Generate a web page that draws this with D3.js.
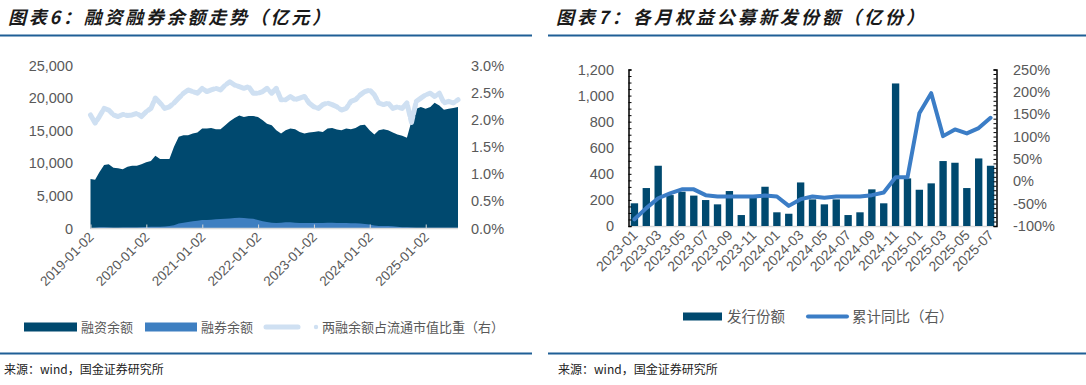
<!DOCTYPE html>
<html>
<head>
<meta charset="utf-8">
<script src="https://cdn.jsdelivr.net/npm/d3@7"></script>
<style>
body { margin: 0; background: #fff; }
text { font-family: "Liberation Sans", Arial, sans-serif; }
.cn { font-family: "Noto Sans CJK SC", sans-serif; }
</style>
</head>
<body>
<svg width="1086" height="385"></svg>
<script>
// ---- left chart data (monthly, 2019-01 .. 2025-08) ----
const leftStart = '2019-01-02';
const financing = [7610, 7460, 8630, 9740, 9840, 9330, 9230, 9080, 9480, 9640, 9640, 9840,
    10150, 10350, 11160, 10650, 10650, 10650, 12530, 14060, 14310, 14310, 14570, 14720,
    15320, 15320, 15420, 15220, 15220, 15830, 16440, 16950, 17350, 17100, 17250, 17250,
    17100, 16590, 16080, 15830, 15070, 14570, 15070, 15320, 15220, 14810, 14570, 14720,
    14810, 14920, 14810, 15320, 15420, 15170, 15070, 15320, 15220, 15420, 15830, 15930,
    15070, 14410, 15070, 15220, 15070, 14720, 14410, 14210, 13900, 16500, 18360, 18620,
    18360, 18620, 19280, 18870, 18210, 18360, 18470, 18620];
const lending = [90, 100, 180, 190, 170, 130, 130, 150, 160, 160, 170, 190,
    220, 260, 250, 280, 300, 400, 500, 750, 900, 1000, 1100, 1200,
    1300, 1300, 1350, 1400, 1450, 1500, 1550, 1600, 1650, 1600, 1550, 1500,
    1300, 1100, 1000, 900, 850, 900, 950, 950, 900, 850, 850, 850,
    850, 850, 850, 900, 900, 850, 850, 850, 800, 800, 750, 700,
    600, 450, 400, 380, 380, 350, 250, 200, 180, 150, 130, 120,
    110, 110, 120, 110, 110, 110, 110, 110];
const ratio = [2.09, 1.94, 2.06, 2.21, 2.18, 2.09, 2.06, 2.10, 2.08, 2.09, 2.12, 2.06,
    2.15, 2.21, 2.40, 2.31, 2.21, 2.24, 2.31, 2.40, 2.49, 2.55, 2.52, 2.49,
    2.58, 2.52, 2.55, 2.58, 2.55, 2.64, 2.70, 2.64, 2.61, 2.58, 2.61, 2.49,
    2.49, 2.52, 2.58, 2.49, 2.58, 2.37, 2.37, 2.43, 2.37, 2.40, 2.43, 2.31,
    2.24, 2.21, 2.28, 2.31, 2.28, 2.24, 2.18, 2.21, 2.34, 2.37, 2.46, 2.52,
    2.55, 2.46, 2.31, 2.28, 2.31, 2.21, 2.24, 2.21, 2.31, 1.95, 2.34, 2.40,
    2.46, 2.49, 2.43, 2.49, 2.31, 2.34, 2.31, 2.37];
const leftTicks = ['2019-01-02', '2020-01-02', '2021-01-02', '2022-01-02', '2023-01-02', '2024-01-02', '2025-01-02'];
const leftYTicks = [0, 5000, 10000, 15000, 20000, 25000];
const leftY2Ticks = [0, 0.5, 1.0, 1.5, 2.0, 2.5, 3.0];

// ---- right chart data ----
const months = ['2023-01', '2023-02', '2023-03', '2023-04', '2023-05', '2023-06', '2023-07', '2023-08',
    '2023-09', '2023-10', '2023-11', '2023-12', '2024-01', '2024-02', '2024-03', '2024-04', '2024-05',
    '2024-06', '2024-07', '2024-08', '2024-09', '2024-10', '2024-11', '2024-12', '2025-01', '2025-02',
    '2025-03', '2025-04', '2025-05', '2025-06', '2025-07'];
const issued = [174, 291, 462, 237, 263, 233, 199, 166, 268, 84, 225, 301, 105, 94, 334, 204, 166,
    204, 84, 105, 281, 174, 1093, 365, 278, 327, 498, 485, 291, 518, 462];
const yoy = [-85, -60, -38, -27, -18, -18, -31, -34, -34, -34, -34, -32, -34, -55, -40, -34, -37,
    -34, -34, -34, -31, -25, 9, 9, 152, 197, 101, 116, 107, 119, 142];
const rightYTicks = [0, 200, 400, 600, 800, 1000, 1200];
const rightY2Ticks = [-100, -50, 0, 50, 100, 150, 200, 250];

const DARK = '#00496f';
const MID = '#3e7fc1';
const LIGHT = '#cfe0f2';
const LINE = '#3b7dc6';
const GREY = '#595959';

const svg = d3.select('svg');
svg.append('rect').attr('width', 1086).attr('height', 385).attr('fill', '#fff');

// titles and rules
const title = (x, txt, len) => svg.append('text')
    .attr('class', 'cn').attr('x', x).attr('y', 24)
    .attr('font-size', 18).attr('font-weight', 'bold').attr('font-style', 'italic')
    .attr('fill', '#1a1a1a').attr('textLength', len).attr('lengthAdjust', 'spacing')
    .text(txt);
title(8, '图表6：融资融券余额走势（亿元）', 322);
title(556, '图表7：各月权益公募新发份额（亿份）', 368);

[[0, 532], [548, 1086]].forEach(([a, b]) => {
    svg.append('line').attr('x1', a).attr('x2', b).attr('y1', 35.5).attr('y2', 35.5)
        .attr('stroke', '#1f5f96').attr('stroke-width', 2);
    svg.append('line').attr('x1', a).attr('x2', b).attr('y1', 353.5).attr('y2', 353.5)
        .attr('stroke', '#1f5f96').attr('stroke-width', 2);
});
svg.append('text').attr('class', 'cn').attr('x', 4).attr('y', 374).attr('font-size', 12).attr('fill', '#222').text('来源：wind，国金证券研究所');
svg.append('text').attr('class', 'cn').attr('x', 558).attr('y', 374).attr('font-size', 12).attr('fill', '#222').text('来源：wind，国金证券研究所');

// ================= left chart =================
const parse = d3.timeParse('%Y-%m-%d');
const firstDate = parse(leftStart);
const dates = [firstDate, ...d3.timeMonth.range(d3.timeMonth.offset(d3.timeMonth.floor(firstDate), 1), d3.timeMonth.offset(d3.timeMonth.floor(firstDate), financing.length))];
const leftData = dates.map((date, i) => ({ date, fin: financing[i], lend: lending[i], ratio: ratio[i] }));

const xL = d3.scaleTime().domain(d3.extent(dates)).range([90.5, 458]);
const yL = d3.scaleLinear().domain([0, 25000]).range([228.5, 65.5]);
const yL2 = d3.scaleLinear().domain([0, 3]).range([228.5, 65.5]);

const gL = svg.append('g');
gL.append('path').datum(leftData)
    .attr('fill', DARK)
    .attr('d', d3.area().x(d => xL(d.date)).y0(yL(0)).y1(d => yL(d.fin)));
gL.append('path').datum(leftData)
    .attr('fill', MID)
    .attr('d', d3.area().x(d => xL(d.date)).y0(yL(0)).y1(d => yL(d.lend)));
gL.append('path').datum(leftData)
    .attr('fill', 'none').attr('stroke', LIGHT).attr('stroke-width', 5)
    .attr('stroke-linecap', 'round').attr('stroke-linejoin', 'round')
    .attr('stroke-dasharray', '10 3')
    .attr('d', d3.line().x(d => xL(d.date)).y(d => yL2(d.ratio)));

// bottom axis
const xAxisL = gL.append('g').attr('transform', `translate(0,${yL(0)})`)
    .call(d3.axisBottom(xL).tickValues(leftTicks.map(parse)).tickSize(-4).tickFormat(''));
xAxisL.select('.domain').attr('stroke', '#d9d9d9').attr('stroke-width', 1.5).attr('d', `M90.5,0H458`);
xAxisL.selectAll('.tick line').attr('stroke', '#d9d9d9');
gL.selectAll('.xlab').data(leftTicks).join('text')
    .attr('class', 'xlab')
    .attr('transform', d => `translate(${xL(parse(d)) + 4},${238}) rotate(-45)`)
    .attr('text-anchor', 'end').attr('font-size', 13.5).attr('fill', GREY)
    .text(d => d);

gL.selectAll('.ylab').data(leftYTicks).join('text')
    .attr('class', 'ylab')
    .attr('x', 73).attr('y', d => yL(d)).attr('dy', '0.35em')
    .attr('text-anchor', 'end').attr('font-size', 14.5).attr('fill', GREY)
    .text(d => d3.format(',')(d));
gL.selectAll('.y2lab').data(leftY2Ticks).join('text')
    .attr('class', 'y2lab')
    .attr('x', 471).attr('y', d => yL2(d)).attr('dy', '0.35em')
    .attr('text-anchor', 'start').attr('font-size', 14.5).attr('fill', GREY)
    .text(d => d3.format('.1f')(d) + '%');

// legend
const legL = svg.append('g').attr('class', 'cn');
legL.append('rect').attr('x', 24).attr('y', 322.5).attr('width', 53).attr('height', 9).attr('fill', DARK);
legL.append('text').attr('x', 81).attr('y', 327).attr('dy', '0.35em').attr('font-size', 13).attr('fill', GREY).attr('class', 'cn').text('融资余额');
legL.append('rect').attr('x', 145).attr('y', 322.5).attr('width', 52).attr('height', 9).attr('fill', MID);
legL.append('text').attr('x', 201).attr('y', 327).attr('dy', '0.35em').attr('font-size', 13).attr('fill', GREY).attr('class', 'cn').text('融券余额');
legL.append('line').attr('x1', 266).attr('x2', 298).attr('y1', 327).attr('y2', 327)
    .attr('stroke', LIGHT).attr('stroke-width', 5).attr('stroke-linecap', 'round');
legL.append('circle').attr('cx', 316).attr('cy', 327).attr('r', 2.2).attr('fill', LIGHT);
legL.append('text').attr('x', 322).attr('y', 327).attr('dy', '0.35em').attr('font-size', 13).attr('fill', GREY).attr('class', 'cn').text('两融余额占流通市值比重（右）');

// ================= right chart =================
const xR = d3.scaleBand().domain(months).range([628.5, 996.5]).paddingInner(0.38).paddingOuter(0.19);
const yR = d3.scaleLinear().domain([0, 1200]).range([226, 69.5]);
const yR2 = d3.scaleLinear().domain([-100, 250]).range([226, 69.5]);

const gR = svg.append('g');
gR.append('line').attr('x1', 628.5).attr('x2', 996.5).attr('y1', 226.5).attr('y2', 226.5)
    .attr('stroke', '#d9d9d9').attr('stroke-width', 1.5);
gR.selectAll('.bar').data(months).join('rect')
    .attr('class', 'bar')
    .attr('x', d => xR(d)).attr('width', xR.bandwidth())
    .attr('y', (d, i) => yR(issued[i])).attr('height', (d, i) => yR(0) - yR(issued[i]))
    .attr('fill', DARK);
gR.append('path').datum(months)
    .attr('fill', 'none').attr('stroke', LINE).attr('stroke-width', 4)
    .attr('stroke-linejoin', 'round').attr('stroke-linecap', 'round')
    .attr('d', d3.line().x(d => xR(d) + xR.bandwidth() / 2).y((d, i) => yR2(yoy[i])));

const axL = gR.append('g').attr('transform', 'translate(628.5,0)')
    .call(d3.axisRight(yR).tickValues(d3.range(0, 1201, 50)).tickSize(3).tickFormat(''));
axL.select('.domain').attr('stroke', '#000').attr('stroke-width', 1.5);
axL.selectAll('.tick line').attr('stroke', '#000');
const axR = gR.append('g').attr('transform', 'translate(996.5,0)')
    .call(d3.axisLeft(yR2).tickValues(d3.range(-100, 251, 10)).tickSize(3).tickFormat(''));
axR.select('.domain').attr('stroke', '#000').attr('stroke-width', 1.5);
axR.selectAll('.tick line').attr('stroke', '#000');

gR.selectAll('.ylab').data(rightYTicks).join('text')
    .attr('class', 'ylab')
    .attr('x', 614).attr('y', d => yR(d)).attr('dy', '0.35em')
    .attr('text-anchor', 'end').attr('font-size', 14.5).attr('fill', GREY)
    .text(d => d3.format(',')(d));
gR.selectAll('.y2lab').data(rightY2Ticks).join('text')
    .attr('class', 'y2lab')
    .attr('x', 1013).attr('y', d => yR2(d)).attr('dy', '0.35em')
    .attr('text-anchor', 'start').attr('font-size', 14.5).attr('fill', GREY)
    .text(d => d + '%');
gR.selectAll('.xlab').data(months.filter((d, i) => i % 2 === 0)).join('text')
    .attr('class', 'xlab')
    .attr('transform', d => `translate(${xR(d) + xR.bandwidth() / 2 + 4},${236}) rotate(-45)`)
    .attr('text-anchor', 'end').attr('font-size', 14).attr('fill', GREY)
    .text(d => d);

// legend
const legR = svg.append('g');
legR.append('rect').attr('x', 683).attr('y', 312.5).attr('width', 39).attr('height', 8).attr('fill', DARK);
legR.append('text').attr('x', 727).attr('y', 316.5).attr('dy', '0.35em').attr('font-size', 14.5).attr('fill', GREY).attr('class', 'cn').text('发行份额');
legR.append('line').attr('x1', 808).attr('x2', 847).attr('y1', 316.5).attr('y2', 316.5)
    .attr('stroke', LINE).attr('stroke-width', 4).attr('stroke-linecap', 'round');
legR.append('text').attr('x', 852).attr('y', 316.5).attr('dy', '0.35em').attr('font-size', 14.5).attr('fill', GREY).attr('class', 'cn').text('累计同比（右）');
</script>
</body>
</html>
